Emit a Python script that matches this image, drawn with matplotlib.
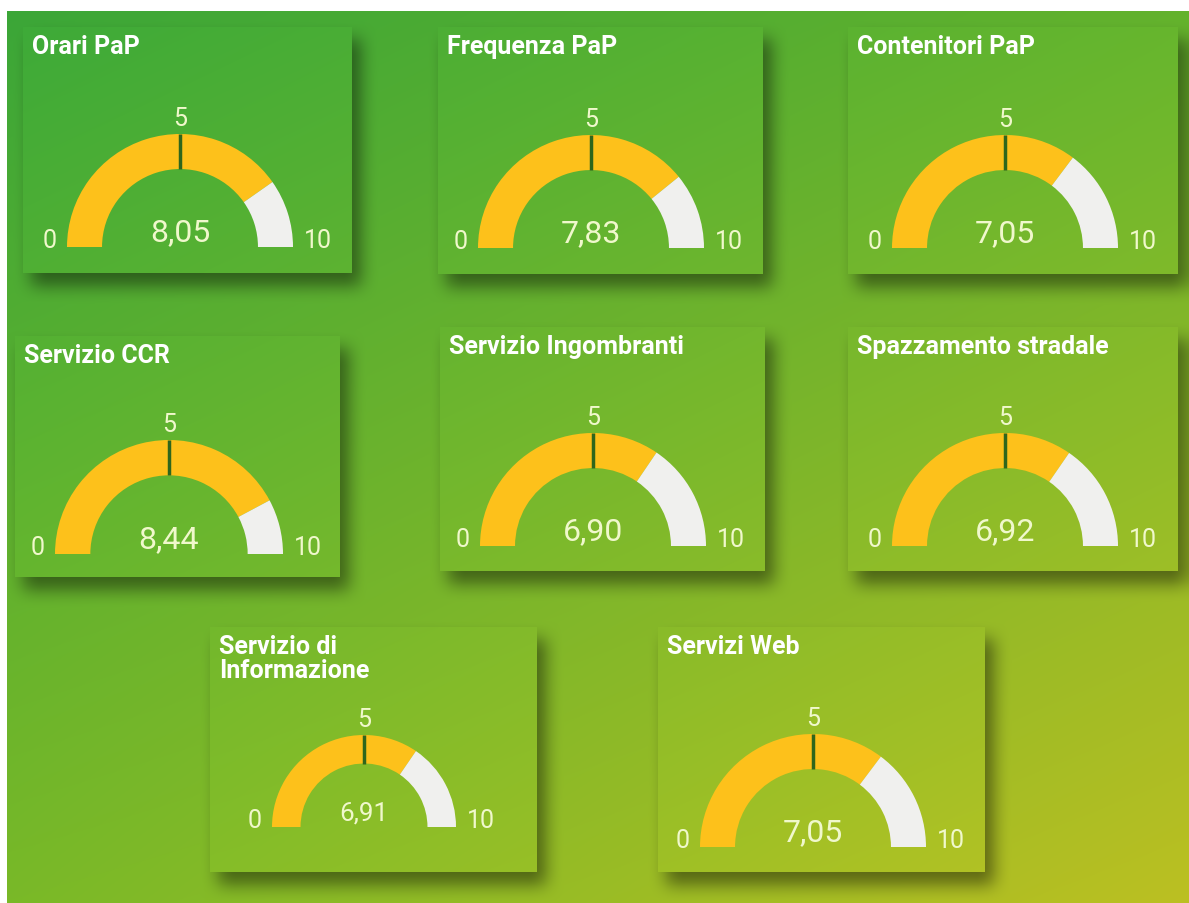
import numpy as np
import matplotlib.pyplot as plt
from matplotlib.patches import Wedge

# Dati dei gauge
titles = ["Orari PaP", "Frequenza PaP", "Contenitori PaP",
          "Servizio CCR", "Servizio Ingombranti", "Spazzamento stradale",
          "Servizio di\nInformazione", "Servizi Web"]
values = [8.05, 7.83, 7.05, 8.44, 6.90, 6.92, 6.91, 7.05]
scale_min, scale_mid, scale_max = 0, 5, 10

# Layout (pixel): riquadri (sinistra, alto, destra, basso) e gauge (cx, base, raggio)
cards = [(23, 28, 352, 274), (438, 28, 763, 275), (848, 28, 1178, 275),
         (15, 337, 340, 578), (440, 328, 765, 572), (848, 328, 1178, 572),
         (210, 628, 537, 873), (658, 628, 985, 873)]
gauges = [(180, 248, 113), (591, 249, 113), (1005, 249, 113),
          (169, 555, 114), (593, 547, 113), (1005, 547, 113),
          (364, 828, 92), (813, 848, 113)]

W, H = 1189, 904
YELLOW = '#fdc11b'
GREY = '#f0f0ee'
TICK = '#2f661c'
NUM = '#f0f8cc'

# Sfondo con gradiente
yy, xx = np.mgrid[0:H, 0:W]
u = (xx / (W - 1))[..., None]
v = (yy / (H - 1))[..., None]
tl = np.array([58, 166, 56]) / 255
tr = np.array([98, 178, 45]) / 255
bl = np.array([121, 185, 40]) / 255
br = np.array([188, 192, 34]) / 255
bg = (1 - u) * (1 - v) * tl + u * (1 - v) * tr + (1 - u) * v * bl + u * v * br


def box_blur(a, k):
    for axis in (0, 1):
        for _ in range(2):
            c = np.cumsum(np.pad(a, [(k, k) if i == axis else (0, 0) for i in range(2)], mode='edge'), axis=axis)
            c = np.insert(c, 0, 0, axis=axis)
            n = a.shape[axis]
            a = (np.take(c, range(2 * k + 1, 2 * k + 1 + n), axis=axis)
                 - np.take(c, range(0, n), axis=axis)) / (2 * k + 1)
    return a


# Ombre dei riquadri
shadow = np.zeros((H, W))
inside = np.zeros((H, W))
for l, t, r, b in cards:
    shadow[t + 12:b + 13, l + 8:r + 9] = 1
    inside[t:b, l:r] = 1
shadow = box_blur(shadow, 9)
dark = 0.45 * shadow * (1 - inside)
bg = bg * (1 - dark[..., None])
bg = bg * (1 + 0.02 * inside[..., None])
bg = np.clip(bg, 0, 1)
bg[:12, :] = 1
bg[:, :7] = 1

fig = plt.figure(figsize=(W / 100, H / 100), dpi=100, facecolor=br)
ax = fig.add_axes([0, 0, 1, 1])
ax.imshow(bg, extent=(0, W, H, 0), interpolation='bilinear', aspect='auto')
ax.set_xlim(0, W)
ax.set_ylim(H, 0)
ax.axis('off')

font = ['Roboto', 'DejaVu Sans']

for title, val, (l, t, r, b), (cx, cy, R) in zip(titles, values, cards, gauges):
    k = R / 113
    band = R * 0.31
    ang = 180 + 180 * (val - scale_min) / (scale_max - scale_min)
    ax.add_patch(Wedge((cx, cy), R, 180, ang, width=band, facecolor=YELLOW, edgecolor='none'))
    ax.add_patch(Wedge((cx, cy), R, ang, 360, width=band, facecolor=GREY, edgecolor='none'))

    # Tacca al valore medio
    a5 = np.deg2rad(180 + 180 * (scale_mid - scale_min) / (scale_max - scale_min))
    rr = np.array([R - band, R])
    ax.plot(cx + rr * np.cos(a5), cy + rr * np.sin(a5), color=TICK, lw=2.5, solid_capstyle='butt')

    ax.text(cx - R - 10, cy, str(scale_min), ha='right', va='baseline',
            fontsize=18, color=NUM, family=font)
    ax.text(cx + R + 11, cy, str(scale_max), ha='left', va='baseline',
            fontsize=18, color=NUM, family=font)
    ax.text(cx, cy - R - 9, str(scale_mid), ha='center', va='baseline',
            fontsize=18, color=NUM, family=font)
    ax.text(cx, cy - 7, f"{val:.2f}".replace('.', ','), ha='center', va='baseline',
            fontsize=23 * k, color=NUM, family=font)

    ax.text(l + 9, t + 7, title, ha='left', va='top', fontsize=18,
            fontweight='bold', color='white', family=font, linespacing=1.0)

fig.savefig('out.png', dpi=100, facecolor=fig.get_facecolor())
